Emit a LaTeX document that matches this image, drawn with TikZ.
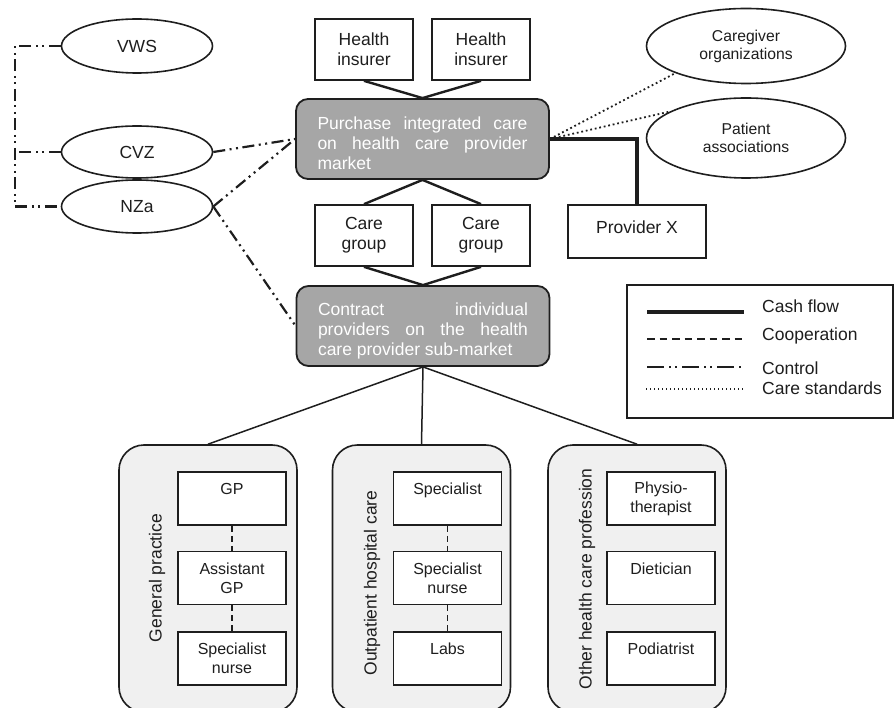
\documentclass[tikz,border=0pt]{standalone}
\usepackage{fontspec}
\setmainfont{Liberation Sans}
\usetikzlibrary{shapes.geometric}
\definecolor{ink}{RGB}{30,30,30}
\definecolor{marketgrey}{RGB}{166,166,166}
\definecolor{sectorgrey}{RGB}{240,240,240}
\tikzset{
  bigfont/.style={font=\fontsize{17.5}{20}\selectfont},
  smallfont/.style={font=\fontsize{16}{19}\selectfont},
  plain/.style={draw=ink, line width=1.7pt, fill=white, rectangle, inner sep=0pt,
    align=center, text=ink, bigfont},
  member/.style={plain, minimum width=108pt, minimum height=53pt, smallfont},
  org/.style={draw=ink, line width=1.6pt, ellipse, inner sep=0pt, align=center,
    text=ink, fill=white},
  market/.style={draw=ink, line width=1.8pt, fill=marketgrey, rounded corners=12pt,
    minimum width=253pt, minimum height=80pt, inner sep=0pt},
  markettext/.style={text=white, text width=210pt, align=justify, inner sep=0pt, bigfont},
  sector/.style={draw=ink, line width=1.6pt, fill=sectorgrey, rounded corners=25pt,
    minimum width=178pt, minimum height=267pt, inner sep=0pt},
  sectorname/.style={rotate=90, text=ink, bigfont, inner sep=0pt},
  tag/.style={text=ink, bigfont, inner sep=0pt},
  link/.style={draw=ink, line width=2.4pt},
  cash/.style={draw=ink, line width=3.2pt},
  thin/.style={draw=ink, line width=1.5pt},
  coop/.style={draw=ink, line width=1.5pt, dash pattern=on 6pt off 4pt},
  control/.style={draw=ink, line width=2.2pt,
    dash pattern=on 12pt off 4.5pt on 2pt off 4.5pt on 2pt off 4.5pt},
  standard/.style={draw=ink, line width=1.8pt, dash pattern=on 1.8pt off 2.8pt},
}
\begin{document}
\begin{tikzpicture}[x=1pt,y=-1pt]
\path[use as bounding box] (0,0) rectangle (896,708);
\clip (0,0) rectangle (896,708);

% regulators and stakeholder organisations
\node[org, minimum width=151pt, minimum height=54pt, bigfont] (vws) at (137,46) {VWS};
\node[org, minimum width=151pt, minimum height=52pt, bigfont] (cvz) at (137,152) {CVZ};
\node[org, minimum width=151pt, minimum height=53pt, bigfont] (nza) at (137,206.5) {NZa};
\node[org, minimum width=199pt, minimum height=75pt, font=\fontsize{15.7}{18}\selectfont]
  (caregiver) at (746,46) {Caregiver\\organizations};
\node[org, minimum width=199pt, minimum height=80pt, font=\fontsize{15.7}{18}\selectfont]
  (patient) at (746,138) {Patient\\associations};

% insurers, care groups and the two markets
\node[plain, minimum width=98pt, minimum height=61pt] (hi1) at (364,49.5) {Health\\insurer};
\node[plain, minimum width=98pt, minimum height=61pt] (hi2) at (481,49.5) {Health\\insurer};

\node[market] (purchase) at (422.5,139) {};
\node[markettext] (purchasetext) at ([yshift=-4pt]purchase.center)
  {Purchase integrated care\linebreak on health care provider\linebreak market};

\node[plain, minimum width=98pt, minimum height=61pt] (cg1) at (364,235.5) {Care\\group};
\node[plain, minimum width=98pt, minimum height=61pt] (cg2) at (481,235.5) {Care\\group};

\node[plain, minimum width=138pt, minimum height=53pt] (provx) at (637,231.5) {};
\node[tag] (provxtext) at ([yshift=4.5pt]provx.center) {Provider X};

\node[market] (contract) at (423,326) {};
\node[markettext] (contracttext) at ([yshift=-4.5pt]contract.center)
  {Contract individual\linebreak providers on the health\linebreak care provider sub-market};

% connectors between the markets
\draw[link] (hi1.south) -- (purchase.north);
\draw[link] (hi2.south) -- (purchase.north);
\draw[link] (purchase.south) -- (cg1.north);
\draw[link] (purchase.south) -- (cg2.north);
\draw[link] (cg1.south) -- (contract.north);
\draw[link] (cg2.south) -- (contract.north);
\draw[cash] (purchase.east) -| (provx.north);
\draw[standard] (purchase.east) -- (caregiver.201);
\draw[standard] (purchase.east) -- (patient.161);

% control relations
\coordinate (rail) at (15,152);
\draw[control] (vws.west) -| (rail) |- (nza.west);
\draw[control] (cvz.west) -- (rail);
\draw[control] (cvz.east) -- (purchase.west);
\draw[control] (nza.east) -- (purchase.west);
\draw[control] (nza.east) -- (contract.west);

% provider sectors
\node[sector] (sec1) at (208,578.5) {};
\node[sector] (sec2) at (421.5,578.5) {};
\node[sector] (sec3) at (637,578.5) {};
\node[sectorname] (sec1name) at (157,578) {General practice};
\node[sectorname] (sec2name) at (372,583) {Outpatient hospital care};
\node[sectorname] (sec3name) at (587,579) {Other health care profession};

\draw[thin] (contract.south) -- (sec1.north);
\draw[thin] (contract.south) -- (sec2.north);
\draw[thin] (contract.south) -- (sec3.north);

\node[member] (gp) at (232,498.5) {GP\\\mbox{}};
\node[member] (agp) at (232,578) {Assistant\\GP};
\node[member] (snurse1) at (232,658.5) {Specialist\\nurse};
\node[member] (spec) at (447.5,498.5) {Specialist\\\mbox{}};
\node[member] (snurse2) at (447.5,578) {Specialist\\nurse};
\node[member] (labs) at (447.5,658.5) {Labs\\\mbox{}};
\node[member] (physio) at (661,498.5) {Physio-\\therapist};
\node[member] (diet) at (661,578) {Dietician\\\mbox{}};
\node[member] (podia) at (661,658.5) {Podiatrist\\\mbox{}};

\draw[coop] (gp.south) -- (agp.north);
\draw[coop] (agp.south) -- (snurse1.north);
\draw[coop] (spec.south) -- (snurse2.north);
\draw[coop] (snurse2.south) -- (labs.north);

% legend
\node[plain, minimum width=266pt, minimum height=133pt] (legend) at (760,351.5) {};
\coordinate (cashA) at (647,312);  \coordinate (cashB) at (744,312);
\coordinate (coopA) at (647,339);  \coordinate (coopB) at (744,339);
\coordinate (ctrlA) at (647,367);  \coordinate (ctrlB) at (744,367);
\coordinate (stdA) at (646,389);   \coordinate (stdB) at (744,389);
\draw[cash] (cashA) -- (cashB);
\draw[draw=ink, line width=1.7pt, dash pattern=on 7.5pt off 5pt] (coopA) -- (coopB);
\draw[draw=ink, line width=2pt,
  dash pattern=on 17pt off 5pt on 2pt off 4pt on 2pt off 5pt] (ctrlA) -- (ctrlB);
\draw[draw=ink, line width=1.4pt, dash pattern=on 1.4pt off 2.6pt] (stdA) -- (stdB);
\node[tag, anchor=west] (cashlbl) at (762,306) {Cash flow};
\node[tag, anchor=west] (cooplbl) at (762,336) {Cooperation};
\node[tag, anchor=west] (ctrllbl) at (762,368) {Control};
\node[tag, anchor=west] (stdlbl) at (762,388) {Care standards};
\end{tikzpicture}
\end{document}
